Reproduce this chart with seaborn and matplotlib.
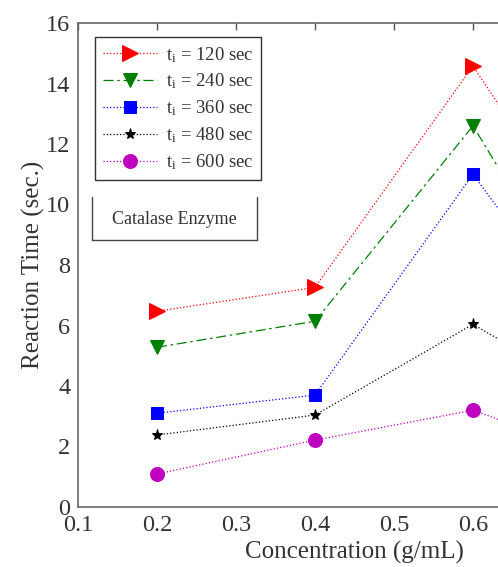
import matplotlib
matplotlib.use("Agg")
import matplotlib.pyplot as plt
import seaborn as sns
import pandas as pd
from matplotlib.lines import Line2D

concentration = [0.2, 0.4, 0.6, 0.8]
t120 = [6.47, 7.26, 14.58, 6.7]
t240 = [5.28, 6.14, 12.60, 4.0]
t360 = [3.10, 3.70, 11.00, 3.9]
t480 = [2.38, 3.04, 6.04, 3.0]
t600 = [1.09, 2.21, 3.20, 1.3]
labels = ["t$_{\\mathrm{i}}$ = 120 sec", "t$_{\\mathrm{i}}$ = 240 sec",
          "t$_{\\mathrm{i}}$ = 360 sec", "t$_{\\mathrm{i}}$ = 480 sec",
          "t$_{\\mathrm{i}}$ = 600 sec"]
xticks = [0.1, 0.2, 0.3, 0.4, 0.5, 0.6]
yticks = [0, 2, 4, 6, 8, 10, 12, 14, 16]

sns.set_style("white")
plt.rcParams["font.family"] = ["Liberation Serif", "DejaVu Serif"]
plt.rcParams["mathtext.fontset"] = "custom"
plt.rcParams["mathtext.rm"] = "Liberation Serif"
plt.rcParams["mathtext.it"] = "Liberation Serif:italic"

W, H = 498, 567
fig = plt.figure(figsize=(W / 100, H / 100), dpi=100)
x0, x1 = 78, 631
y0, y1 = 23, 507
ax = fig.add_axes([x0 / W, 1 - y1 / H, (x1 - x0) / W, (y1 - y0) / H])

styles = [
    ("red", ">", ":", 11),
    ("green", "v", (0, (8, 3, 2, 3)), 10),
    ("blue", "s", ":", 9),
    ("black", "*", ":", 8),
    ("m", "o", ":", 10),
]
series = [t120, t240, t360, t480, t600]
for vals, lab, (c, m, ls, ms) in zip(series, labels, styles):
    df = pd.DataFrame({"Concentration": concentration, "Time": vals})
    sns.lineplot(data=df, x="Concentration", y="Time", ax=ax, color=c,
                 marker=m, linestyle=ls, markersize=ms, linewidth=0.9,
                 markeredgecolor=c, markerfacecolor=c, label=lab)

ax.set_xlim(0.1, 0.8)
ax.set_ylim(0, 16)
ax.set_xticks(xticks)
ax.set_yticks(yticks)
ax.set_xticklabels([f"{v:.1f}" for v in xticks])
ax.set_yticklabels([str(v) for v in yticks])
ax.tick_params(direction="in", length=5, width=1, colors="#555555",
               labelcolor="#333333", labelsize=17.5, top=True, right=True)
ax.tick_params(axis="x", pad=6)
ax.tick_params(axis="y", pad=5.5)
for s in ax.spines.values():
    s.set_color("#666666")
    s.set_linewidth(1.2)
ax.set_xlabel("Concentration (g/mL)", fontsize=18, color="#333333", labelpad=3)
ax.set_ylabel("Reaction Time (sec.)", fontsize=18, color="#333333", labelpad=1)

leg = ax.legend(loc="upper left", bbox_to_anchor=(95 / W, 1 - 37 / H),
                bbox_transform=fig.transFigure, borderaxespad=0,
                fancybox=False, frameon=True, fontsize=13.5,
                handlelength=2.9, handletextpad=0.45, labelspacing=0.38,
                borderpad=0.42)
leg.get_frame().set_edgecolor("black")
leg.get_frame().set_linewidth(1.0)
for t in leg.get_texts():
    t.set_color("#333333")

# "Catalase Enzyme" label box (left, bottom, right edges)
bx0, bx1, by0, by1 = 92, 257, 197, 240
for xs, ys in [((bx0, bx0), (by0, by1)), ((bx0, bx1), (by1, by1)), ((bx1, bx1), (by0, by1))]:
    fig.add_artist(Line2D([v / W for v in xs], [1 - v / H for v in ys],
                          color="#444444", linewidth=1.0))
fig.text((bx0 + bx1) / 2 / W, 1 - 219 / H, "Catalase Enzyme", ha="center",
         va="center", fontsize=13, color="#333333")

fig.savefig("out.png", dpi=100)
